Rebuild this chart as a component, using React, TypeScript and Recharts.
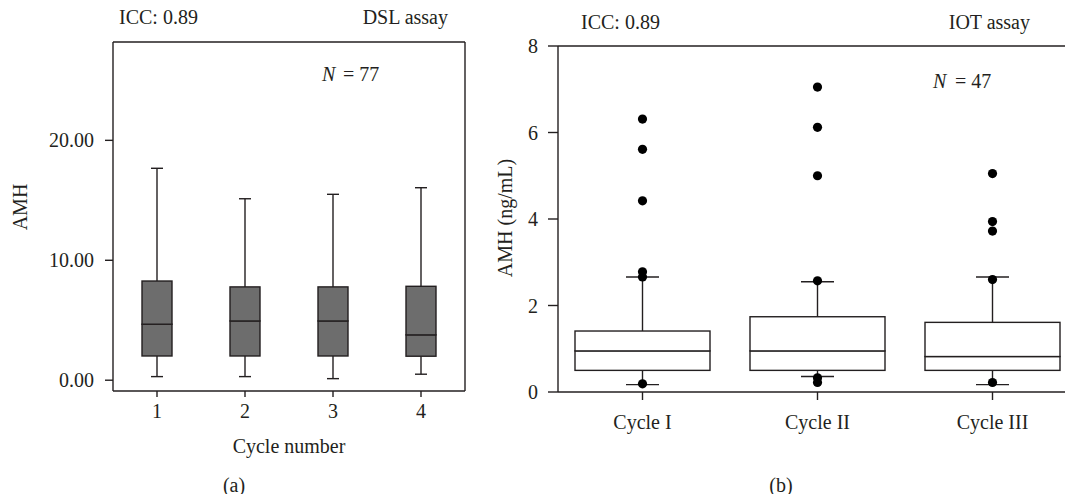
import React from "react";
import { ComposedChart, Bar, Line, XAxis, YAxis } from "recharts";

// (a) DSL assay – box summary per cycle number
const leftCats = ["1", "2", "3", "4"];
const leftMin = [0.3, 0.3, 0.13, 0.5];
const leftQ1 = [2.02, 2.02, 2.02, 2.0];
const leftMed = [4.67, 4.94, 4.94, 3.78];
const leftQ3 = [8.27, 7.78, 7.78, 7.83];
const leftMax = [17.67, 15.13, 15.5, 16.05];
const leftTicks = [0, 10, 20];

// (b) IOT assay – box summary + outliers per cycle
const rightCats = ["Cycle I", "Cycle II", "Cycle III"];
const rightMin = [0.17, 0.36, 0.17];
const rightQ1 = [0.5, 0.5, 0.5];
const rightMed = [0.95, 0.95, 0.82];
const rightQ3 = [1.41, 1.74, 1.61];
const rightMax = [2.66, 2.55, 2.66];
const rightOutliers = [
  [6.31, 5.61, 4.42, 2.78, 2.66, 0.19],
  [7.05, 6.12, 5.0, 2.57, 0.33, 0.22],
  [5.05, 3.94, 3.72, 2.6, 0.22],
];
const rightTicks = [0, 2, 4, 6, 8];

const INK = "#231f20";
const FONT = '"Liberation Serif", "DejaVu Serif", serif';
const FS = 20;

const OUT_KEYS = [0, 1, 2, 3, 4, 5].map((i) => `o${i}`);

function boxRows(cats: string[], mn: number[], q1: number[], md: number[], q3: number[], mx: number[]) {
  return cats.map((name, i) => ({
    name,
    base: mn[i],
    whiskLo: q1[i] - mn[i],
    boxLo: md[i] - q1[i],
    boxHi: q3[i] - md[i],
    whiskHi: mx[i] - q3[i],
  }));
}

const leftData = boxRows(leftCats, leftMin, leftQ1, leftMed, leftQ3, leftMax);
const rightData = boxRows(rightCats, rightMin, rightQ1, rightMed, rightQ3, rightMax).map((row, i) => {
  const r: Record<string, any> = { ...row };
  OUT_KEYS.forEach((k, j) => {
    r[k] = rightOutliers[i][j] ?? null;
  });
  return r;
});

// whisker: vertical stem + cap at the far end
const whisker = (capW: number, top: boolean) => (p: any) => {
  const cx = p.x + p.width / 2;
  const capY = top ? p.y : p.y + p.height;
  return (
    <g>
      <line x1={cx} x2={cx} y1={p.y} y2={p.y + p.height} stroke={INK} strokeWidth={1.4} />
      <line x1={cx - capW / 2} x2={cx + capW / 2} y1={capY} y2={capY} stroke={INK} strokeWidth={1.4} />
    </g>
  );
};

const boxPart = (fill: string) => (p: any) => (
  <rect x={p.x} y={p.y} width={p.width} height={p.height} fill={fill} stroke={INK} strokeWidth={1.4} />
);

const outlierDot = (p: any) => {
  if (p.cy == null || Number.isNaN(p.cy) || p.value == null) return <g key={`e-${p.index}`} />;
  return <circle key={`d-${p.index}`} cx={p.cx} cy={p.cy} r={4.6} fill="#000" />;
};

const tickStyle = { fill: INK, fontSize: FS, fontFamily: FONT };
const axisLn = { stroke: INK, strokeWidth: 1.4 };

function LeftPanel() {
  return (
    <ComposedChart width={480} height={502} data={leftData} margin={{ top: 41, right: 14, bottom: 0, left: 0 }}>
      <XAxis
        dataKey="name"
        height={111}
        tick={tickStyle}
        tickSize={6}
        tickMargin={7}
        axisLine={axisLn}
        tickLine={axisLn}
      />
      {/* frame: top and right edges */}
      <XAxis xAxisId="top" dataKey="name" orientation="top" height={1} tick={false} tickLine={false} axisLine={axisLn} />
      <YAxis
        width={113}
        domain={[-0.9, 28.2]}
        ticks={leftTicks}
        allowDataOverflow
        tickFormatter={(v: number) => v.toFixed(2)}
        tick={tickStyle}
        tickSize={8}
        tickMargin={11}
        axisLine={axisLn}
        tickLine={axisLn}
      />
      <YAxis yAxisId="r" orientation="right" width={1} tick={false} tickLine={false} axisLine={axisLn} />
      <Bar dataKey="base" stackId="b" barSize={30} fill="transparent" isAnimationActive={false} />
      <Bar dataKey="whiskLo" stackId="b" barSize={30} shape={whisker(12, false)} isAnimationActive={false} />
      <Bar dataKey="boxLo" stackId="b" barSize={30} shape={boxPart("#6d6d6d")} isAnimationActive={false} />
      <Bar dataKey="boxHi" stackId="b" barSize={30} shape={boxPart("#6d6d6d")} isAnimationActive={false} />
      <Bar dataKey="whiskHi" stackId="b" barSize={30} shape={whisker(12, true)} isAnimationActive={false} />
    </ComposedChart>
  );
}

function RightPanel() {
  return (
    <ComposedChart width={603} height={502} data={rightData} margin={{ top: 45, right: 0, bottom: 0, left: 0 }}>
      <XAxis
        dataKey="name"
        height={110}
        padding={{ left: -3, right: 3 }}
        tick={tickStyle}
        tickSize={8}
        tickMargin={15}
        axisLine={axisLn}
        tickLine={axisLn}
      />
      <XAxis xAxisId="top" dataKey="name" orientation="top" height={1} tick={false} tickLine={false} axisLine={axisLn} />
      <YAxis
        width={78}
        domain={[0, 8]}
        ticks={rightTicks}
        allowDataOverflow
        tick={tickStyle}
        tickSize={10}
        tickMargin={10}
        axisLine={axisLn}
        tickLine={axisLn}
      />
      <Bar dataKey="base" stackId="b" barSize={135} fill="transparent" isAnimationActive={false} />
      <Bar dataKey="whiskLo" stackId="b" barSize={135} shape={whisker(33, false)} isAnimationActive={false} />
      <Bar dataKey="boxLo" stackId="b" barSize={135} shape={boxPart("#ffffff")} isAnimationActive={false} />
      <Bar dataKey="boxHi" stackId="b" barSize={135} shape={boxPart("#ffffff")} isAnimationActive={false} />
      <Bar dataKey="whiskHi" stackId="b" barSize={135} shape={whisker(33, true)} isAnimationActive={false} />
      {OUT_KEYS.map((k) => (
        <Line
          key={k}
          dataKey={k}
          stroke="none"
          dot={outlierDot}
          activeDot={false}
          connectNulls={false}
          isAnimationActive={false}
        />
      ))}
    </ComposedChart>
  );
}

export default function App() {
  const txt = { fill: INK, fontSize: FS, fontFamily: FONT };
  return (
    <div
      style={{
        position: "relative",
        width: 1073,
        height: 502,
        margin: -8,
        overflow: "hidden",
        background: "#fff",
        fontFamily: FONT,
      }}
    >
      <div style={{ position: "absolute", left: 0, top: 0 }}>
        <LeftPanel />
      </div>
      <div style={{ position: "absolute", left: 480, top: 0 }}>
        <RightPanel />
      </div>
      {/* panel annotations */}
      <svg width={1073} height={502} style={{ position: "absolute", left: 0, top: 0, pointerEvents: "none" }}>
        <text x={119} y={24} {...txt}>ICC: 0.89</text>
        <text x={448} y={24} textAnchor="end" {...txt}>DSL assay</text>
        <text x={322} y={81} fontStyle="italic" {...txt}>N</text>
        <text x={343} y={81} {...txt}>= 77</text>
        <text transform="translate(27,207) rotate(-90)" textAnchor="middle" {...txt}>AMH</text>
        <text x={289} y={453} textAnchor="middle" {...txt}>Cycle number</text>
        <text x={234} y={492} textAnchor="middle" {...txt}>(a)</text>

        <text x={581} y={29} {...txt}>ICC: 0.89</text>
        <text x={1030} y={29} textAnchor="end" {...txt}>IOT assay</text>
        <text x={933} y={88} fontStyle="italic" {...txt}>N</text>
        <text x={955} y={88} {...txt}>= 47</text>
        <text transform="translate(512,218) rotate(-90)" textAnchor="middle" {...txt}>AMH (ng/mL)</text>
        <text x={781} y={492} textAnchor="middle" {...txt}>(b)</text>
      </svg>
    </div>
  );
}
